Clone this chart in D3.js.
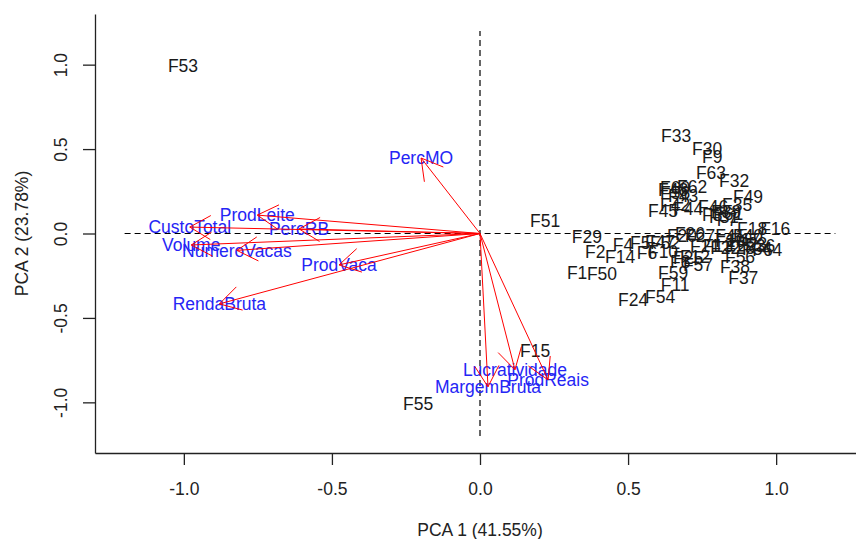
<!DOCTYPE html>
<html>
<head>
<meta charset="utf-8">
<script src="https://cdn.jsdelivr.net/npm/d3@7"></script>
<style>
  body { margin: 0; background: #fff; }
  svg text { font-family: "Liberation Sans", Arial, sans-serif; }
</style>
</head>
<body>
<script>
// variables (loadings) - arrow tips
var varNames = ["PercMO", "ProdLeite", "CustoTotal", "PercRB", "Volume", "NumeroVacas",
                "ProdVaca", "RendaBruta", "Lucratividade", "ProdReais", "MargemBruta"];
var varX = [-0.199, -0.752, -0.980, -0.611, -0.975, -0.821, -0.476, -0.880, 0.118, 0.230, 0.027];
var varY = [0.447, 0.109, 0.038, 0.027, -0.068, -0.100, -0.186, -0.417, -0.807, -0.867, -0.908];

// observations (scores)
var obsNames = ["F1","F2","F3","F4","F5","F6","F7","F8","F9","F10",
                "F11","F12","F13","F14","F15","F16","F17","F18","F19","F20",
                "F21","F22","F23","F24","F25","F26","F27","F28","F29","F30",
                "F31","F32","F33","F34","F35","F36","F37","F38","F39","F40",
                "F41","F42","F43","F44","F45","F46","F47","F48","F49","F50",
                "F51","F52","F53","F54","F55","F56","F57","F58","F59","F60",
                "F61","F62","F63","F64"];
var obsX = [0.328, 0.389, 0.784, 0.483, 0.541, 0.564, 0.834, 0.676, 0.784, 0.618,
            0.659, 0.726, 0.804, 0.473, 0.186, 0.997, 0.895, 0.919, 0.845, 0.682,
            0.760, 0.828, 0.919, 0.517, 0.703, 0.709, 0.743, 0.878, 0.361, 0.767,
            0.824, 0.858, 0.662, 0.936, 0.868, 0.946, 0.889, 0.861, 0.831, 0.905,
            0.845, 0.659, 0.686, 0.703, 0.618, 0.787, 0.608, 0.652, 0.905, 0.412,
            0.220, 0.625, -1.003, 0.608, -0.209, 0.878, 0.736, 0.659, 0.652, 0.659,
            0.838, 0.716, 0.780, 0.970];
var obsY = [-0.234, -0.109, 0.109, -0.068, -0.056, -0.115, 0.080, -0.169, 0.453, -0.109,
            -0.305, -0.139, -0.074, -0.139, -0.695, 0.027, -0.038, 0.027, -0.044, -0.015,
            -0.074, -0.086, -0.062, -0.393, -0.145, -0.003, -0.015, -0.086, -0.021, 0.500,
            0.098, 0.311, 0.577, -0.092, 0.169, -0.074, -0.263, -0.198, 0.127, -0.015,
            -0.015, 0.169, 0.222, 0.145, 0.133, 0.157, -0.050, 0.257, 0.216, -0.240,
            0.074, -0.056, 0.991, -0.376, -1.009, -0.139, -0.186, 0.240, -0.234, 0.269,
            0.115, 0.275, 0.358, -0.098];

var tickVals = [-1, -0.5, 0, 0.5, 1];
var xTitle = "PCA 1 (41.55%)",
    yTitle = "PCA 2 (23.78%)";

var width = 856,
    height = 539,
    fontSize = 17.5;

var svg = d3.select("body").append("svg")
            .attr("width", width)
            .attr("height", height);

var x = d3.scaleLinear().domain([-1.3, 1.3]).range([95, 865]);
var y = d3.scaleLinear().domain([-1.3, 1.3]).range([453, 14]);

// R prints a plain hyphen for negatives
var fmt = function(d) { return d.toFixed(1); };

// axes
var xAxis = svg.append("g")
               .attr("transform", "translate(0," + y.range()[0] + ")")
               .call(d3.axisBottom(x).tickValues(tickVals).tickFormat(fmt)
                       .tickSize(12).tickSizeOuter(0).tickPadding(18));
var yAxis = svg.append("g")
               .attr("transform", "translate(" + x.range()[0] + ",0)")
               .call(d3.axisLeft(y).tickValues(tickVals).tickFormat(fmt)
                       .tickSize(12).tickSizeOuter(0));

svg.selectAll(".domain, .tick line").attr("stroke", "#222").attr("stroke-width", 1.3);
svg.selectAll(".tick text").attr("fill", "#222").style("font-size", fontSize + "px")
   .style("font-family", "'Liberation Sans', Arial, sans-serif");

yAxis.selectAll(".tick text")
     .attr("transform", "rotate(-90)")
     .attr("x", 0)
     .attr("y", -28)
     .attr("dy", 0)
     .attr("text-anchor", "middle");

// axis titles
svg.append("text")
   .attr("x", x(0))
   .attr("y", 530)
   .attr("dy", "0.35em")
   .attr("text-anchor", "middle")
   .attr("fill", "#222")
   .style("font-size", fontSize + "px")
   .text(xTitle);

svg.append("text")
   .attr("transform", "translate(22," + y(0) + ") rotate(-90)")
   .attr("dy", "0.35em")
   .attr("text-anchor", "middle")
   .attr("fill", "#222")
   .style("font-size", fontSize + "px")
   .text(yTitle);

// dashed reference lines
svg.append("line")
   .attr("x1", x(-1.2)).attr("x2", x(1.2))
   .attr("y1", y(0)).attr("y2", y(0))
   .attr("stroke", "#000").attr("stroke-width", 1.2).attr("stroke-dasharray", "6,4");
svg.append("line")
   .attr("x1", x(0)).attr("x2", x(0))
   .attr("y1", y(-1.2)).attr("y2", y(1.2))
   .attr("stroke", "#000").attr("stroke-width", 1.2).attr("stroke-dasharray", "6,4");

// observation labels
var obs = obsNames.map(function(n, i) { return {name: n, x: obsX[i], y: obsY[i]}; });
svg.selectAll(".obsLabel")
   .data(obs)
   .enter()
   .append("text")
   .attr("class", "obsLabel")
   .attr("x", function(d) { return x(d.x); })
   .attr("y", function(d) { return y(d.y); })
   .attr("dy", "0.35em")
   .attr("text-anchor", "middle")
   .attr("fill", "#1a1a1a")
   .style("font-size", fontSize + "px")
   .text(function(d) { return d.name; });

// variable labels
var vars = varNames.map(function(n, i) { return {name: n, x: varX[i], y: varY[i]}; });
svg.selectAll(".varLabel")
   .data(vars)
   .enter()
   .append("text")
   .attr("class", "varLabel")
   .attr("x", function(d) { return x(d.x); })
   .attr("y", function(d) { return y(d.y); })
   .attr("dy", "0.35em")
   .attr("text-anchor", "middle")
   .attr("fill", "#2525f5")
   .style("font-size", fontSize + "px")
   .text(function(d) { return d.name; });

// arrows from origin, R style open heads
var headLen = 24,
    headAng = Math.PI / 6;

var arrows = svg.selectAll(".arrow")
                .data(vars)
                .enter()
                .append("g")
                .attr("class", "arrow");

arrows.append("line")
      .attr("x1", x(0)).attr("y1", y(0))
      .attr("x2", function(d) { return x(d.x); })
      .attr("y2", function(d) { return y(d.y); })
      .attr("stroke", "red").attr("stroke-width", 1);

arrows.append("path")
      .attr("fill", "none")
      .attr("stroke", "red").attr("stroke-width", 1)
      .attr("d", function(d) {
          var tx = x(d.x), ty = y(d.y);
          var a = Math.atan2(y(0) - ty, x(0) - tx);
          var p1 = [tx + headLen * Math.cos(a - headAng), ty + headLen * Math.sin(a - headAng)];
          var p2 = [tx + headLen * Math.cos(a + headAng), ty + headLen * Math.sin(a + headAng)];
          return "M" + p1 + "L" + tx + "," + ty + "L" + p2;
      });
</script>
</body>
</html>
